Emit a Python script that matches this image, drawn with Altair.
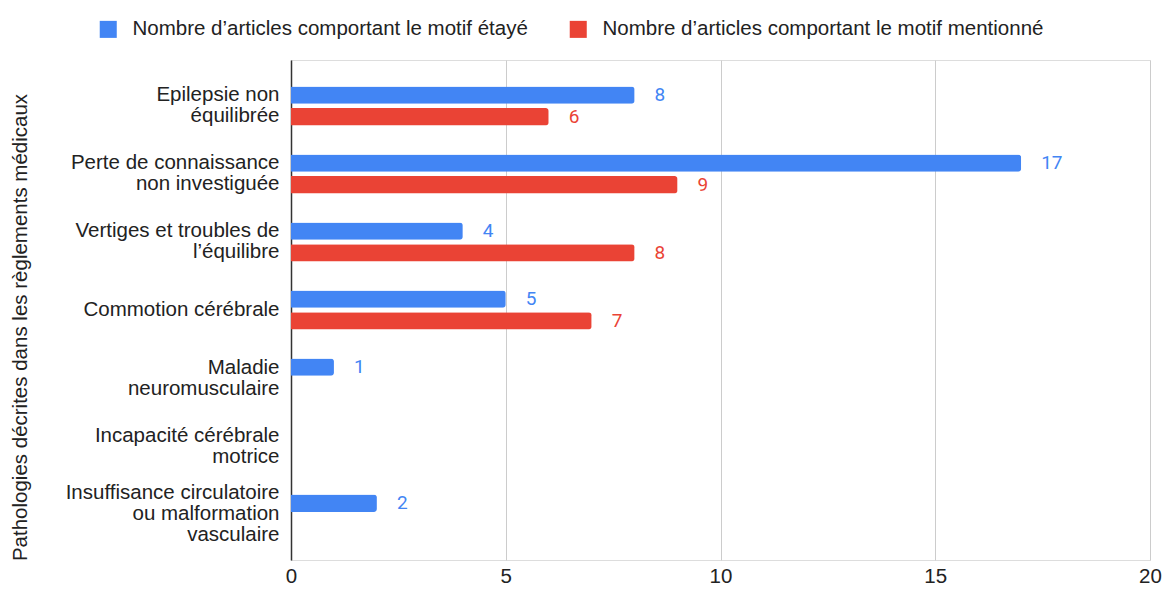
import altair as alt
import pandas as pd

# Pathologies (line breaks as shown on the axis)
pathologies = [
    ["Epilepsie non", "équilibrée"],
    ["Perte de connaissance", "non investiguée"],
    ["Vertiges et troubles de", "l’équilibre"],
    ["Commotion cérébrale"],
    ["Maladie", "neuromusculaire"],
    ["Incapacité cérébrale", "motrice"],
    ["Insuffisance circulatoire", "ou malformation", "vasculaire"],
]
series = [
    "Nombre d’articles comportant le motif étayé",
    "Nombre d’articles comportant le motif mentionné",
]
etaye = [8, 17, 4, 5, 1, None, 2]
mentionne = [6, 9, 8, 7, None, None, None]
colors = ["#4285F4", "#EA4335"]

cat_names = ["\n".join(p) for p in pathologies]
rows = []
for name, a, b in zip(cat_names, etaye, mentionne):
    rows.append({"cat": name, "serie": series[0], "val": a})
    rows.append({"cat": name, "serie": series[1], "val": b})
df = pd.DataFrame(rows)

font = "Liberation Sans"
fs = 20.5
line_h = 21

# shift multi-line labels up so the block is centred on its band
n_lines = "length(split(datum.value, '\\n'))"
label_offset = {
    "condition": [
        {"test": f"{n_lines} == 2", "value": -line_h / 2},
        {"test": f"{n_lines} == 3", "value": -line_h},
    ],
    "value": 0,
}

y_enc = alt.Y(
    "cat:N",
    sort=cat_names,
    scale=alt.Scale(domain=cat_names, paddingInner=0.426, paddingOuter=0.388),
    axis=alt.Axis(
        title="Pathologies décrites dans les règlements médicaux",
        labelExpr="split(datum.value, '\\n')",
        labelFont=font,
        labelFontSize=fs,
        labelColor="#222222",
        labelPadding=12,
        labelLineHeight=line_h,
        labelLimit=0,
        labelOffset=label_offset,
        ticks=False,
        domainColor="#333333",
        domainWidth=1.5,
        titleFont=font,
        titleFontSize=fs,
        titleFontWeight="normal",
        titleColor="#222222",
        titleX=-271,
        titleY=267,
        titleAngle=-90,
        titleAlign="center",
        titleBaseline="middle",
    ),
)
y_off = alt.YOffset(
    "serie:N", sort=series, scale=alt.Scale(domain=series, paddingInner=0.2)
)
color_enc = alt.Color(
    "serie:N",
    sort=series,
    scale=alt.Scale(domain=series, range=colors),
    legend=alt.Legend(
        title=None,
        orient="none",
        direction="horizontal",
        legendX=-193,
        legendY=-41,
        symbolType="square",
        symbolSize=290,
        symbolStrokeWidth=0,
        labelFont=font,
        labelFontSize=fs,
        labelColor="#222222",
        labelOffset=14,
        labelLimit=0,
        columnPadding=40,
    ),
)

base = alt.Chart(df).transform_filter("isValid(datum.val)")

bars = base.mark_bar(cornerRadiusEnd=3).encode(
    x=alt.X(
        "val:Q",
        scale=alt.Scale(domain=[0, 20]),
        axis=alt.Axis(
            values=[0, 5, 10, 15, 20],
            title=None,
            grid=True,
            gridColor="#CCCCCC",
            domain=False,
            ticks=False,
            labelFlush=False,
            labelFont=font,
            labelFontSize=fs,
            labelColor="#222222",
            labelPadding=6,
        ),
    ),
    y=y_enc,
    yOffset=y_off,
    color=color_enc,
)

labels = base.mark_text(
    align="left", baseline="middle", dx=20, font="Roboto", fontSize=19
).encode(
    x="val:Q",
    y=alt.Y("cat:N", sort=cat_names),
    yOffset=alt.YOffset("serie:N", sort=series),
    text="val:Q",
    color=alt.Color("serie:N", sort=series, legend=None),
)

chart = (
    alt.layer(bars, labels)
    .properties(
        width=859,
        height=500,
        autosize=alt.AutoSizeParams(type="none"),
        padding={"left": 291, "top": 60, "right": 15, "bottom": 29},
    )
    .configure_view(stroke=None)
    .configure(background="white")
)

chart.save("out.html", embed_options={"renderer": "svg", "actions": False})
